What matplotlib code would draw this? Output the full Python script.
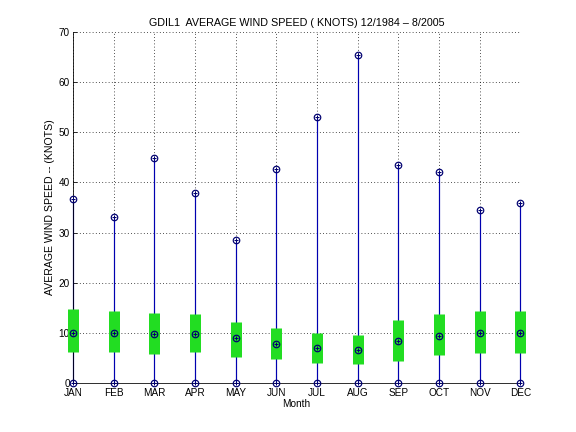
import numpy as np
import matplotlib.pyplot as plt

months = ['JAN', 'FEB', 'MAR', 'APR', 'MAY', 'JUN', 'JUL', 'AUG', 'SEP', 'OCT', 'NOV', 'DEC']
max_speed = [36.7, 33.1, 44.9, 37.9, 28.5, 42.7, 53.0, 65.4, 43.5, 42.1, 34.5, 35.9]
mean_speed = [10.0, 10.0, 9.7, 9.7, 9.0, 7.8, 7.0, 6.5, 8.3, 9.3, 10.0, 10.0]
box_top = [14.7, 14.4, 14.0, 13.8, 12.2, 11.0, 10.0, 9.5, 12.6, 13.8, 14.4, 14.4]
box_bot = [6.1, 6.1, 5.85, 6.1, 5.1, 4.8, 4.0, 3.7, 4.45, 5.65, 6.05, 6.05]
min_speed = [0] * 12

plt.rcParams['font.family'] = ['Liberation Sans', 'DejaVu Sans']
plt.rcParams['font.size'] = 9

fig = plt.figure(figsize=(8, 6), dpi=72)
ax = fig.add_axes([0.1267, 0.1134, 0.7766, 0.8126])

x = np.arange(1, 13)
navy = '#0000b0'

# grid first so bars/lines sit on top
ax.set_axisbelow(True)
ax.grid(True, color='k', linestyle=(0, (1, 3)), linewidth=0.8)

# min-max lines
ax.vlines(x, min_speed, max_speed, color=navy, linewidth=1.2, zorder=2, clip_on=False)

# std boxes
ax.vlines(x, box_bot, box_top, color='#22dd22', linewidth=11, zorder=3, clip_on=False)

# markers at min, mean, max
for vals in (min_speed, mean_speed, max_speed):
    ax.plot(x, vals, 'o', mfc='none', mec='#000070', ms=6.5, mew=1.2, zorder=4, clip_on=False)
    ax.plot(x, vals, '+', color='#000070', ms=4, mew=1, zorder=4, clip_on=False)

ax.set_xlim(1, 12)
ax.set_ylim(0, 70)
ax.set_xticks(x)
ax.set_xticklabels(months)
ax.set_yticks(np.arange(0, 71, 10))
ax.tick_params(direction='in', length=4, labelsize=10)
ax.tick_params(axis='x', pad=5)
ax.tick_params(axis='y', pad=3)
ax.spines['top'].set_visible(False)
ax.spines['right'].set_visible(False)

ax.set_xlabel('Month', labelpad=1, fontsize=10)
ax.set_ylabel('AVERAGE WIND SPEED -- (KNOTS)', labelpad=4, fontsize=10.5)
ax.set_title('GDIL1  AVERAGE WIND SPEED ( KNOTS) 12/1984 \u2013 8/2005', pad=6)

plt.savefig('out.png', dpi=72)
